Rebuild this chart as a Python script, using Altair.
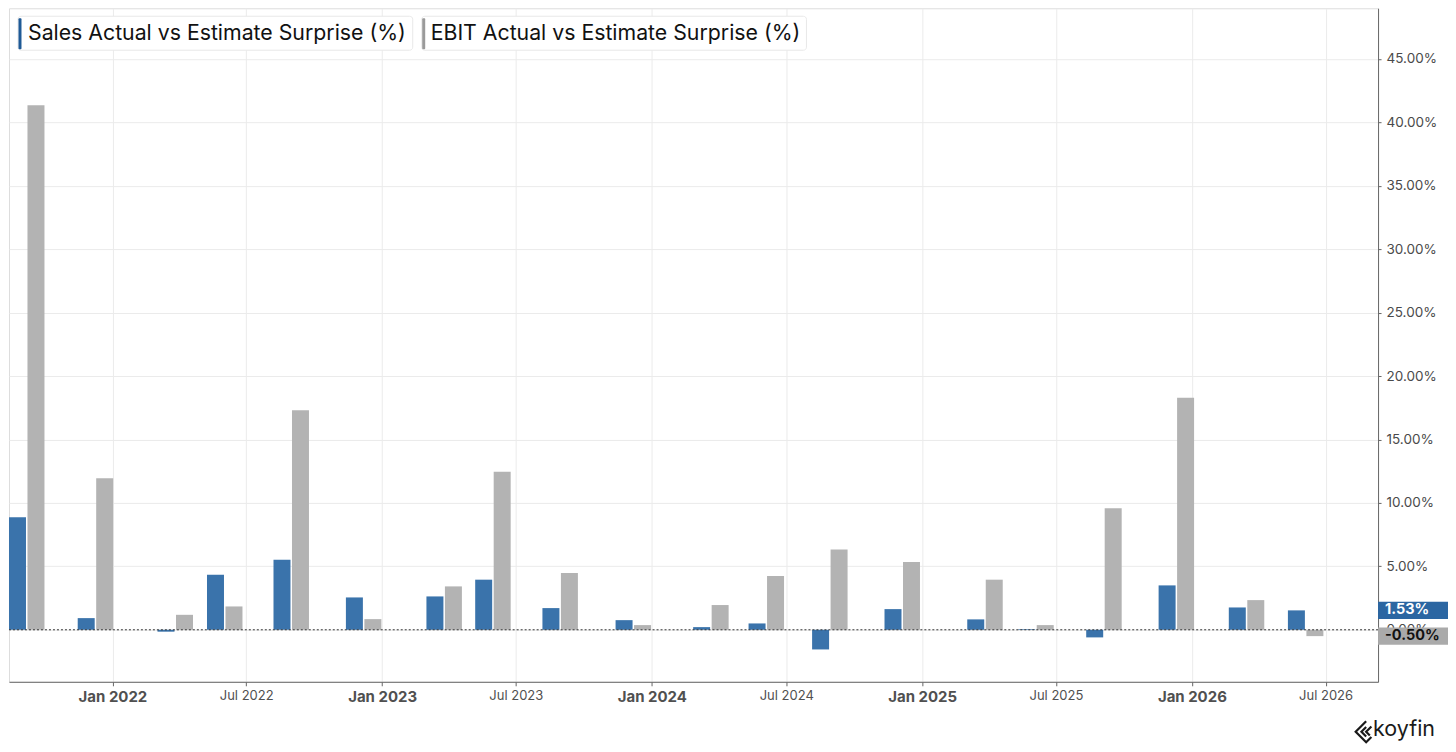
import altair as alt
import pandas as pd

# ---- data ----
report_dates = [
    "2021-09-07", "2021-12-09", "2022-03-27", "2022-06-02", "2022-08-31",
    "2022-12-07", "2023-03-26", "2023-05-31", "2023-08-30", "2023-12-07",
    "2024-03-21", "2024-06-04", "2024-08-29", "2024-12-05", "2025-03-27",
    "2025-06-04", "2025-09-04", "2025-12-11", "2026-03-16", "2026-06-04",
]
sales_surprise = [
    8.87, 0.92, -0.15, 4.34, 5.53, 2.55, 2.63, 3.95, 1.71, 0.76,
    0.21, 0.50, -1.55, 1.63, 0.82, 0.05, -0.60, 3.50, 1.76, 1.53,
]
ebit_surprise = [
    41.35, 11.95, 1.18, 1.84, 17.30, 0.84, 3.42, 12.45, 4.47, 0.37,
    1.95, 4.24, 6.32, 5.35, 3.95, 0.37, 9.58, 18.30, 2.34, -0.50,
]
series_names = ["Sales Actual vs Estimate Surprise (%)", "EBIT Actual vs Estimate Surprise (%)"]
y_ticks = [0, 5, 10, 15, 20, 25, 30, 35, 40, 45]
x_tick_dates = [
    "2022-01-01", "2022-07-01", "2023-01-01", "2023-07-01", "2024-01-01",
    "2024-07-01", "2025-01-01", "2025-07-01", "2026-01-01", "2026-07-01",
]

BLUE = "#3a73ab"
GRAY = "#b3b3b3"
FONT = "Inter"

df = pd.DataFrame({"date": report_dates, "sales": sales_surprise, "ebit": ebit_surprise})

x_scale = alt.Scale(domain=[alt.DateTime(year=2021, month=8, date=14),
                            alt.DateTime(year=2026, month=9, date=10)],
                    padding=0, nice=False)
y_scale = alt.Scale(domain=[-4.1, 49.0], nice=False, zero=False)

x_axis = alt.Axis(
    values=[alt.DateTime(year=int(d[:4]), month=int(d[5:7]), date=1) for d in x_tick_dates],
    format="%b %Y", title=None, grid=True, gridColor="#ebebeb",
    domainColor="#666", tickColor="#666", tickSize=4, labelPadding=4,
    labelColor="#505050", labelFont=FONT,
    labelFontWeight={"condition": {"test": "month(datum.value) == 0", "value": "bold"}, "value": "normal"},
    labelFontSize={"condition": {"test": "month(datum.value) == 0", "value": 15}, "value": 13},
)
y_axis = alt.Axis(
    orient="right", values=y_ticks, labelExpr="format(datum.value, '.2f') + '%'",
    title=None, grid=True, gridColor="#ebebeb", domainColor="#666", tickColor="#666",
    tickSize=3, labelPadding=5, labelColor="#4a4a4a", labelFont=FONT, labelFontSize=13.5,
)

base = alt.Chart(df)

sales_bars = base.mark_bar(width=17, xOffset=-9.25, color=BLUE).encode(
    x=alt.X("date:T", scale=x_scale, axis=x_axis),
    y=alt.Y("sales:Q", scale=y_scale, axis=y_axis),
)
ebit_bars = base.mark_bar(width=17, xOffset=9.25, color=GRAY).encode(
    x=alt.X("date:T", scale=x_scale),
    y=alt.Y("ebit:Q", scale=y_scale),
)

zero_line = alt.Chart(pd.DataFrame({"z": [0]})).mark_rule(
    color="#333", strokeDash=[2, 2], strokeWidth=1
).encode(y=alt.Y("z:Q", scale=y_scale))

# last-value badges
badge_df = pd.DataFrame({
    "v": [sales_surprise[-1], ebit_surprise[-1]],
    "label": [f"{sales_surprise[-1]:.2f}%", f"{ebit_surprise[-1]:.2f}%"],
    "fill": ["#2b66a2", "#aaaaaa"],
    "tcol": ["#ffffff", "#111111"],
})
badge_rect = alt.Chart(badge_df).transform_calculate(
    lo="datum.v - 0.68", hi="datum.v + 0.68"
).mark_rect().encode(
    x=alt.value(1370), x2=alt.value(1440),
    y=alt.Y("lo:Q", scale=y_scale), y2="hi:Q",
    color=alt.Color("fill:N", scale=None),
)
badge_text = alt.Chart(badge_df).mark_text(
    align="left", baseline="middle", font=FONT, fontSize=14.5, fontWeight="bold"
).encode(
    x=alt.value(1377), y=alt.Y("v:Q", scale=y_scale),
    text="label:N", color=alt.Color("tcol:N", scale=None),
)

# custom legend boxes
def legend_entry(name, color, x0, x1, tx):
    d = pd.DataFrame({"name": [name]})
    box = alt.Chart(d).mark_rect(fill="white", stroke="#e8e8e8", strokeWidth=1, cornerRadius=3).encode(
        x=alt.value(x0), x2=alt.value(x1), y=alt.value(8), y2=alt.value(42))
    bar = alt.Chart(d).mark_rect(fill=color, cornerRadius=1).encode(
        x=alt.value(x0 + 0.5), x2=alt.value(x0 + 3.5), y=alt.value(10), y2=alt.value(41))
    txt = alt.Chart(d).mark_text(align="left", baseline="middle", font=FONT, fontSize=21.3, color="#111").encode(
        x=alt.value(tx), y=alt.value(25.5), text="name:N")
    return box + bar + txt

legend1 = legend_entry(series_names[0], "#1f5a96", 9, 404, 19)
legend2 = legend_entry(series_names[1], "#9a9a9a", 413, 798, 422)

logo_df = pd.DataFrame({"t": ["koyfin"]})
logo = alt.Chart(logo_df).mark_text(
    align="left", baseline="middle", font=FONT, fontSize=21.5, color="#1a1a1a"
).encode(x=alt.value(1365), y=alt.value(722), text="t:N")
logo_icon = alt.Chart(logo_df).mark_point(
    shape="M0.2,-1 L-0.8,0 L0.2,1 L0.7,0.5 M0.7,-0.5 L0.2,0 L0.55,0.35 M0.2,-0.45 L-0.25,0 L0.2,0.45",
    filled=False, stroke="#1a1a1a", strokeWidth=2.2, size=440, opacity=1,
).encode(x=alt.value(1356), y=alt.value(724))

chart = alt.layer(
    sales_bars, ebit_bars, zero_line, badge_rect, badge_text, legend1, legend2, logo, logo_icon
).properties(
    width=1370, height=674,
    padding={"left": 0, "top": 0, "right": 0, "bottom": 0},
).configure_view(stroke="#888", strokeWidth=1).configure(background="white")

chart.save("out.html", embed_options={"renderer": "svg", "actions": False})
